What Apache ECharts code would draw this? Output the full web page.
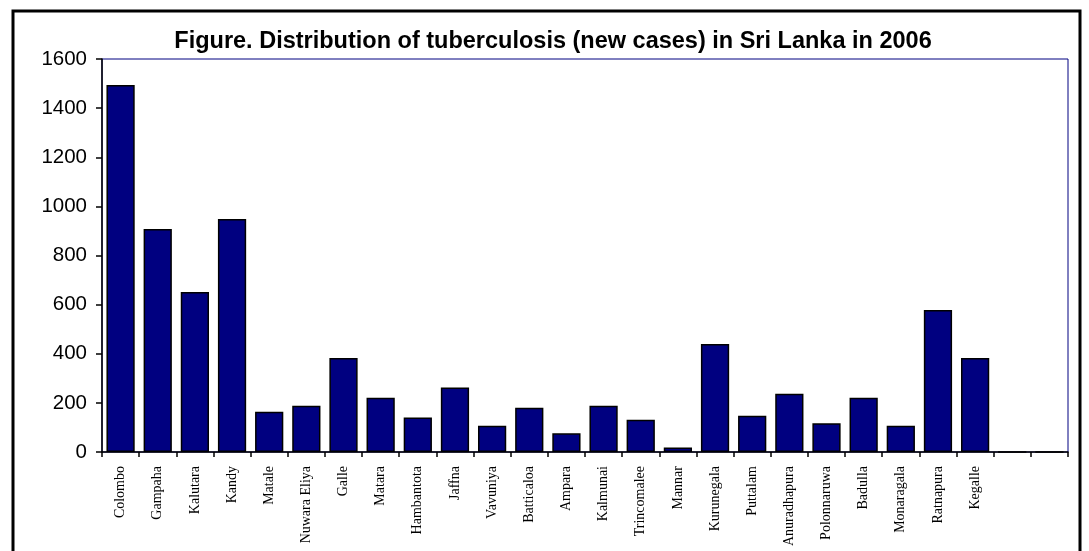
<!DOCTYPE html>
<html>
<head>
<meta charset="utf-8">
<script src="https://cdn.jsdelivr.net/npm/echarts@6/dist/echarts.min.js"></script>
<style>
  html, body { margin: 0; padding: 0; background: #fff; }
  #chart { width: 1089px; height: 551px; }
</style>
</head>
<body>
<div id="chart"></div>
<script>
// districts, plus two empty slots at the end like the original
const districts = [
  "Colombo", "Gampaha", "Kalutara", "Kandy", "Matale", "Nuwara Eliya", "Galle",
  "Matara", "Hambantota", "Jaffna", "Vavuniya", "Batticaloa", "Ampara", "Kalmunai",
  "Trincomalee", "Mannar", "Kurunegala", "Puttalam", "Anuradhapura", "Polonnaruwa",
  "Badulla", "Monaragala", "Ratnapura", "Kegalle", "", ""
];
const newCases = [
  1494, 908, 651, 949, 164, 188, 383, 221, 140, 263, 107, 180, 76, 188,
  131, 18, 440, 148, 237, 117, 221, 107, 578, 383, 0, 0
];
const yTicks = [0, 200, 400, 600, 800, 1000, 1200, 1400, 1600];

const chart = echarts.init(document.getElementById("chart"));

chart.setOption({
  animation: false,
  title: {
    text: "Figure. Distribution of tuberculosis (new cases) in Sri Lanka in 2006",
    left: 548,
    textAlign: "center",
    top: 25,
    textStyle: { fontFamily: "Liberation Sans", fontSize: 23.5, fontWeight: "bold", color: "#000" }
  },
  graphic: [
    {
      type: "rect",
      shape: { x: 13, y: 11, width: 1067, height: 570 },
      style: { fill: null, stroke: "#000", lineWidth: 3 },
      silent: true
    }
  ],
  grid: {
    left: 102, top: 59, right: 21, bottom: 99,
    show: true, borderColor: "#000080", borderWidth: 1, backgroundColor: "transparent"
  },
  xAxis: {
    type: "category",
    data: districts,
    axisLine: { lineStyle: { color: "#000", width: 1.5 } },
    axisTick: { show: true, alignWithLabel: false, length: 5, lineStyle: { color: "#000", width: 1.5 } },
    axisLabel: {
      interval: 0,
      rotate: 90,
      margin: 14,
      fontFamily: "Liberation Serif",
      fontSize: 14,
      color: "#000"
    }
  },
  yAxis: {
    type: "value",
    min: yTicks[0],
    max: yTicks[yTicks.length - 1],
    interval: 200,
    splitLine: { show: false },
    axisLine: { show: true, lineStyle: { color: "#000", width: 1.5 } },
    axisTick: { show: true, inside: false, length: 6, lineStyle: { color: "#000", width: 1.5 } },
    axisLabel: {
      fontFamily: "Liberation Sans", fontSize: 20.5, color: "#000", margin: 15,
      formatter: (v) => String(v)
    }
  },
  series: [
    {
      type: "bar",
      data: newCases,
      barCategoryGap: "24%",
      itemStyle: { color: "#000080", borderColor: "#000", borderWidth: 1.5 }
    }
  ]
});
</script>
</body>
</html>
